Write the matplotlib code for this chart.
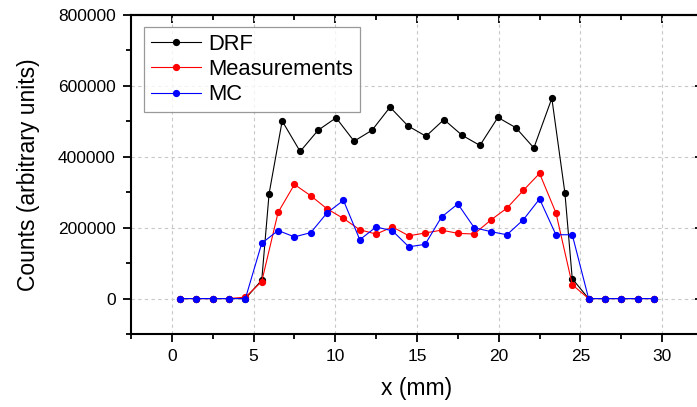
import matplotlib
matplotlib.use("Agg")
import matplotlib.pyplot as plt
from matplotlib.ticker import MultipleLocator, FixedLocator

plt.rcParams['font.family'] = ['Liberation Sans', 'DejaVu Sans']

# Detector response function profile
drf_x = [0.5, 1.5, 2.5, 3.5, 4.5, 5.5, 5.95, 6.75, 7.85, 8.95, 10.05, 11.15,
         12.25, 13.35, 14.45, 15.55, 16.65, 17.75, 18.85, 19.95, 21.05, 22.15,
         23.25, 24.05, 24.5, 25.5, 26.5, 27.5, 28.5, 29.5]
drf_y = [0, 0, 0, 0, 0, 52000, 296000, 501000, 415000, 475000, 510000, 444000,
         475000, 540000, 487000, 458000, 505000, 461000, 432000, 511000, 482000,
         425000, 565000, 298000, 56000, 0, 0, 0, 0, 0]

# Measured and simulated profiles share the same 1 mm sampling
pos_x = [0.5, 1.5, 2.5, 3.5, 4.5, 5.5, 6.5, 7.5, 8.5, 9.5, 10.5, 11.5, 12.5,
         13.5, 14.5, 15.5, 16.5, 17.5, 18.5, 19.5, 20.5, 21.5, 22.5, 23.5,
         24.5, 25.5, 26.5, 27.5, 28.5, 29.5]
meas_y = [0, 0, 0, 0, 4000, 48000, 243000, 322000, 290000, 253000, 226000,
          194000, 182000, 202000, 177000, 185000, 193000, 184000, 182000,
          221000, 255000, 305000, 353000, 242000, 39000, 0, 0, 0, 0, 0]
mc_y = [0, 0, 0, 0, 0, 156000, 192000, 174000, 186000, 242000, 277000,
        166000, 202000, 191000, 146000, 153000, 230000, 267000, 200000,
        189000, 180000, 222000, 281000, 180000, 180000, 0, 0, 0, 0, 0]

fig = plt.figure(figsize=(6.97, 4.07), dpi=100)
W, H = 697.0, 407.0
left, right, top, bottom = 131, 703, 15, 334
ax = fig.add_axes([left / W, 1 - bottom / H, (right - left) / W, (bottom - top) / H])

lw = 0.8
ms = 4.2
ax.plot(drf_x, drf_y, '-o', color='black', lw=lw, ms=ms, label='DRF', zorder=3)
ax.plot(pos_x, meas_y, '-o', color='#ff0000', lw=lw, ms=ms, label='Measurements', zorder=4)
ax.plot(pos_x, mc_y, '-o', color='#0000ff', lw=lw, ms=ms, label='MC', zorder=5)

ax.set_xlim(-2.5, 32.5)
ax.set_ylim(-100000, 800000)

ax.xaxis.set_major_locator(FixedLocator([0, 5, 10, 15, 20, 25, 30]))
ax.xaxis.set_minor_locator(MultipleLocator(2.5))
ax.yaxis.set_major_locator(FixedLocator([0, 200000, 400000, 600000, 800000]))
ax.yaxis.set_minor_locator(MultipleLocator(100000))
ax.ticklabel_format(style='plain', axis='y', useOffset=False)

ax.grid(True, which='major', color='#c8c8c8', linestyle=(0, (3, 3)), linewidth=0.8, zorder=0)
ax.set_axisbelow(True)

for s in ax.spines.values():
    s.set_linewidth(1.5)

ax.tick_params(which='both', direction='out', width=1.3, labelsize=12.5,
               top=False, right=False)
ax.tick_params(which='major', length=6)
ax.tick_params(which='minor', length=3.6)
ax.tick_params(axis='y', pad=5)
ax.tick_params(axis='x', pad=5)

# Mirrored inward ticks on top and right
sec_x = ax.secondary_xaxis('top')
sec_x.xaxis.set_major_locator(FixedLocator([0, 5, 10, 15, 20, 25, 30]))
sec_x.xaxis.set_minor_locator(MultipleLocator(2.5))
sec_x.tick_params(which='both', direction='in', width=1.3, labeltop=False)
sec_x.tick_params(which='major', length=6)
sec_x.tick_params(which='minor', length=3.6)
sec_x.spines['top'].set_linewidth(1.5)

sec_y = ax.secondary_yaxis('right')
sec_y.yaxis.set_major_locator(FixedLocator([0, 200000, 400000, 600000, 800000]))
sec_y.yaxis.set_minor_locator(MultipleLocator(100000))
sec_y.tick_params(which='both', direction='in', width=1.3, labelright=False)
sec_y.tick_params(which='major', length=6)
sec_y.tick_params(which='minor', length=3.6)
sec_y.spines['right'].set_linewidth(1.5)

ax.set_xlabel('x (mm)', fontsize=16.5, labelpad=9)
ax.set_ylabel('Counts (arbitrary units)', fontsize=16.5, labelpad=13)

leg = ax.legend(loc='upper left', bbox_to_anchor=(0.0227, 0.962), borderaxespad=0,
                fontsize=15.8, frameon=True, fancybox=False, edgecolor='#808080',
                handlelength=2.3, handletextpad=0.35, labelspacing=0.2,
                borderpad=0.3, markerscale=1.0)
leg.get_frame().set_linewidth(0.9)

fig.savefig('out.png', dpi=100)
